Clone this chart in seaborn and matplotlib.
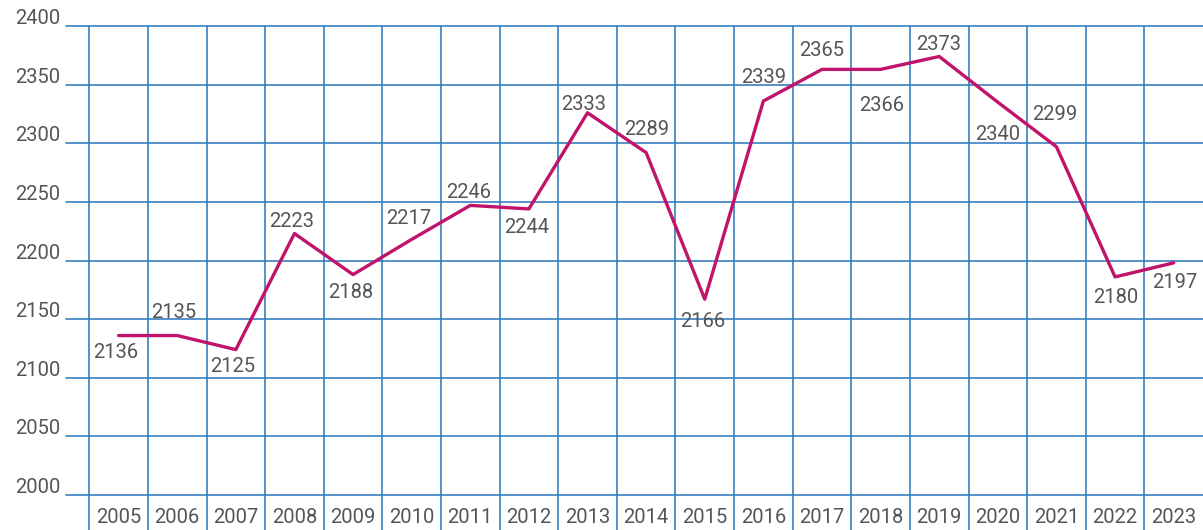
import pandas as pd
import matplotlib
matplotlib.use("Agg")
import matplotlib.pyplot as plt
import matplotlib.transforms as mtransforms
import seaborn as sns

years = [str(y) for y in range(2005, 2024)]
# values
values = [2136, 2136, 2124, 2223, 2188, 2218, 2247, 2244, 2326, 2292,
          2167, 2336, 2363, 2363, 2374, 2335, 2297, 2186, 2198]
# values printed next to the points
labels = ["2136", "2135", "2125", "2223", "2188", "2217", "2246", "2244", "2333", "2289",
          "2166", "2339", "2365", "2366", "2373", "2340", "2299", "2180", "2197"]
y_ticks = [2000, 2050, 2100, 2150, 2200, 2250, 2300, 2350, 2400]

df = pd.DataFrame({"year": years, "value": values})

# label offsets from the point, in pixels (dx right, dy down)
label_offsets = [(-3, 17), (-4, -23), (-3, 17), (-3, -12), (-2, 18), (-3, -21),
                 (-2, -13), (-2, 19), (-4, -8), (1, -23), (-2, 22), (0, -24),
                 (0, -19), (1, 36), (-1, -12), (0, 32), (-2, -32), (1, 21), (1, 20)]

sns.set_style("white")
plt.rcParams["font.family"] = ["Roboto", "DejaVu Sans"]

grid_c = "#2f7bbf"
text_c = "#555555"
line_c = "#c0136b"
fs = 14.5

W, H = 1203, 530
fig = plt.figure(figsize=(W / 100, H / 100), dpi=100)
ax = fig.add_axes([66 / W, 0, (W - 66) / W, (H - 26) / H])

sns.lineplot(data=df, x="year", y="value", ax=ax, color=line_c, linewidth=2.4,
             sort=False, zorder=5)

ax.set_ylim(2400 - 429.85, 2400)
ax.set_xlim(-0.897, len(years) - 0.5)

for v in y_ticks:
    ax.axhline(v, color=grid_c, lw=1.15, clip_on=False, zorder=1)
for i in range(len(years)):
    ax.axvline(i - 0.5, color=grid_c, lw=1.15, zorder=1)

for s in ax.spines.values():
    s.set_visible(False)
ax.set_xticks([])
ax.set_yticks([])
ax.set_xlabel("")
ax.set_ylabel("")

trans = mtransforms.blended_transform_factory(ax.transAxes, ax.transData)
for v in y_ticks:
    t = ax.text(-6 / (W - 66), v, str(v), transform=trans, ha="right", va="baseline",
                color=text_c, fontsize=fs, clip_on=False)
    t.set_transform(trans + mtransforms.ScaledTranslation(0, 2 / 100, fig.dpi_scale_trans))

for i, y in enumerate(years):
    ax.text(i, 2000 - 18.8, y, ha="center", va="center", color=text_c, fontsize=fs)

for i, (v, lab) in enumerate(zip(values, labels)):
    dx, dy = label_offsets[i]
    ax.annotate(lab, xy=(i, v), xytext=(dx, -dy), textcoords="offset pixels",
                ha="center", va="center", color=text_c, fontsize=fs, zorder=6)

fig.savefig("out.png", dpi=100)
